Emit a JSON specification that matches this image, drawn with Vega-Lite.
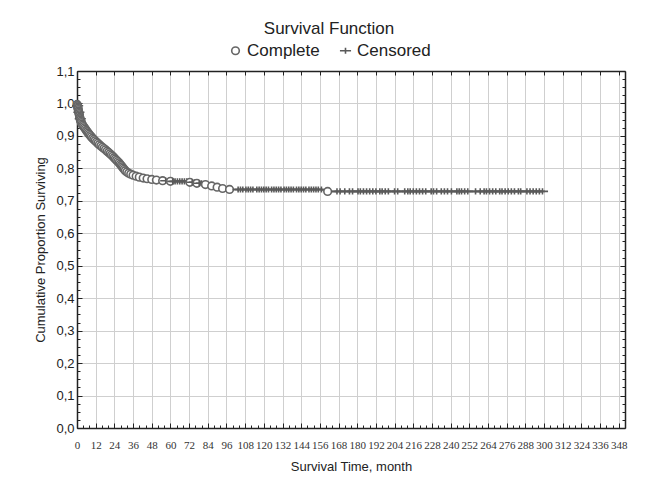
{
  "$schema": "https://vega.github.io/schema/vega-lite/v6.json",
  "width": 548,
  "height": 357,
  "autosize": {"type": "none"},
  "padding": {"left": 77, "top": 71, "right": 21, "bottom": 58},
  "background": "white",
  "title": {"text": "Survival Function", "anchor": "middle", "frame": "group", "dx": -22, "offset": 4, "font": "Liberation Sans", "fontSize": 17, "fontWeight": "normal", "color": "#222"},
  "data": {"values": [
    {"t": 0, "s": 1.0, "k": "Start"},
    {"t": 0.1, "s": 0.997, "k": "Complete"},
    {"t": 0.3, "s": 0.993, "k": "Complete"},
    {"t": 0.4, "s": 0.993, "k": "Censored"},
    {"t": 0.5, "s": 0.989, "k": "Complete"},
    {"t": 0.6, "s": 0.985, "k": "Complete"},
    {"t": 0.8, "s": 0.981, "k": "Complete"},
    {"t": 1.0, "s": 0.977, "k": "Complete"},
    {"t": 1.1, "s": 0.973, "k": "Complete"},
    {"t": 1.2, "s": 0.973, "k": "Censored"},
    {"t": 1.3, "s": 0.969, "k": "Complete"},
    {"t": 1.5, "s": 0.965, "k": "Complete"},
    {"t": 1.6, "s": 0.961, "k": "Complete"},
    {"t": 1.8, "s": 0.957, "k": "Complete"},
    {"t": 2.0, "s": 0.953, "k": "Complete"},
    {"t": 2.1, "s": 0.953, "k": "Censored"},
    {"t": 2.2, "s": 0.949, "k": "Complete"},
    {"t": 2.5, "s": 0.945, "k": "Complete"},
    {"t": 2.8, "s": 0.941, "k": "Complete"},
    {"t": 3.2, "s": 0.937, "k": "Complete"},
    {"t": 3.7, "s": 0.933, "k": "Complete"},
    {"t": 4.2, "s": 0.929, "k": "Complete"},
    {"t": 4.8, "s": 0.925, "k": "Complete"},
    {"t": 5.4, "s": 0.921, "k": "Complete"},
    {"t": 6.0, "s": 0.917, "k": "Complete"},
    {"t": 6.6, "s": 0.913, "k": "Complete"},
    {"t": 7.2, "s": 0.909, "k": "Complete"},
    {"t": 7.8, "s": 0.905, "k": "Complete"},
    {"t": 8.5, "s": 0.901, "k": "Complete"},
    {"t": 9.2, "s": 0.897, "k": "Complete"},
    {"t": 10.0, "s": 0.893, "k": "Complete"},
    {"t": 10.8, "s": 0.889, "k": "Complete"},
    {"t": 11.6, "s": 0.885, "k": "Complete"},
    {"t": 12.5, "s": 0.881, "k": "Complete"},
    {"t": 13.4, "s": 0.877, "k": "Complete"},
    {"t": 14.3, "s": 0.873, "k": "Complete"},
    {"t": 15.3, "s": 0.869, "k": "Complete"},
    {"t": 16.3, "s": 0.865, "k": "Complete"},
    {"t": 17.3, "s": 0.861, "k": "Complete"},
    {"t": 18.3, "s": 0.857, "k": "Complete"},
    {"t": 19.3, "s": 0.853, "k": "Complete"},
    {"t": 20.3, "s": 0.849, "k": "Complete"},
    {"t": 21.2, "s": 0.845, "k": "Complete"},
    {"t": 22.1, "s": 0.841, "k": "Complete"},
    {"t": 23.0, "s": 0.837, "k": "Complete"},
    {"t": 23.8, "s": 0.833, "k": "Complete"},
    {"t": 24.6, "s": 0.829, "k": "Complete"},
    {"t": 25.4, "s": 0.825, "k": "Complete"},
    {"t": 26.2, "s": 0.821, "k": "Complete"},
    {"t": 27.0, "s": 0.817, "k": "Complete"},
    {"t": 27.7, "s": 0.813, "k": "Complete"},
    {"t": 28.4, "s": 0.809, "k": "Complete"},
    {"t": 29.0, "s": 0.805, "k": "Complete"},
    {"t": 29.6, "s": 0.801, "k": "Complete"},
    {"t": 30.3, "s": 0.797, "k": "Complete"},
    {"t": 31.0, "s": 0.793, "k": "Complete"},
    {"t": 32.0, "s": 0.789, "k": "Complete"},
    {"t": 33.2, "s": 0.785, "k": "Complete"},
    {"t": 34.5, "s": 0.782, "k": "Complete"},
    {"t": 36.0, "s": 0.779, "k": "Complete"},
    {"t": 38.0, "s": 0.776, "k": "Complete"},
    {"t": 40.0, "s": 0.773, "k": "Complete"},
    {"t": 42.5, "s": 0.770, "k": "Complete"},
    {"t": 45.0, "s": 0.768, "k": "Complete"},
    {"t": 48.0, "s": 0.766, "k": "Complete"},
    {"t": 51.0, "s": 0.764, "k": "Complete"},
    {"t": 55.0, "s": 0.762, "k": "Complete"},
    {"t": 57.0, "s": 0.762, "k": "Censored"},
    {"t": 60.0, "s": 0.760, "k": "Complete"},
    {"t": 61.5, "s": 0.760, "k": "Censored"},
    {"t": 63.0, "s": 0.760, "k": "Censored"},
    {"t": 64.5, "s": 0.760, "k": "Censored"},
    {"t": 66.0, "s": 0.760, "k": "Censored"},
    {"t": 67.5, "s": 0.760, "k": "Censored"},
    {"t": 69.0, "s": 0.760, "k": "Censored"},
    {"t": 70.5, "s": 0.760, "k": "Censored"},
    {"t": 72.5, "s": 0.757, "k": "Complete"},
    {"t": 74.0, "s": 0.757, "k": "Censored"},
    {"t": 75.5, "s": 0.757, "k": "Censored"},
    {"t": 77.0, "s": 0.754, "k": "Complete"},
    {"t": 78.5, "s": 0.754, "k": "Censored"},
    {"t": 80.0, "s": 0.754, "k": "Censored"},
    {"t": 82.5, "s": 0.750, "k": "Complete"},
    {"t": 86.5, "s": 0.746, "k": "Complete"},
    {"t": 90.0, "s": 0.742, "k": "Complete"},
    {"t": 93.5, "s": 0.738, "k": "Complete"},
    {"t": 98.0, "s": 0.735, "k": "Complete"},
    {"t": 103.5, "s": 0.735, "k": "Censored"},
    {"t": 105.0, "s": 0.735, "k": "Censored"},
    {"t": 106.5, "s": 0.735, "k": "Censored"},
    {"t": 108.5, "s": 0.735, "k": "Censored"},
    {"t": 110.0, "s": 0.735, "k": "Censored"},
    {"t": 111.5, "s": 0.735, "k": "Censored"},
    {"t": 113.0, "s": 0.735, "k": "Censored"},
    {"t": 115.5, "s": 0.735, "k": "Censored"},
    {"t": 117.0, "s": 0.735, "k": "Censored"},
    {"t": 118.5, "s": 0.735, "k": "Censored"},
    {"t": 120.0, "s": 0.735, "k": "Censored"},
    {"t": 121.5, "s": 0.735, "k": "Censored"},
    {"t": 123.0, "s": 0.735, "k": "Censored"},
    {"t": 125.0, "s": 0.735, "k": "Censored"},
    {"t": 126.5, "s": 0.735, "k": "Censored"},
    {"t": 128.0, "s": 0.735, "k": "Censored"},
    {"t": 129.5, "s": 0.735, "k": "Censored"},
    {"t": 131.0, "s": 0.735, "k": "Censored"},
    {"t": 133.0, "s": 0.735, "k": "Censored"},
    {"t": 134.5, "s": 0.735, "k": "Censored"},
    {"t": 136.0, "s": 0.735, "k": "Censored"},
    {"t": 137.5, "s": 0.735, "k": "Censored"},
    {"t": 139.0, "s": 0.735, "k": "Censored"},
    {"t": 141.0, "s": 0.735, "k": "Censored"},
    {"t": 142.5, "s": 0.735, "k": "Censored"},
    {"t": 144.0, "s": 0.735, "k": "Censored"},
    {"t": 145.5, "s": 0.735, "k": "Censored"},
    {"t": 147.0, "s": 0.735, "k": "Censored"},
    {"t": 149.0, "s": 0.735, "k": "Censored"},
    {"t": 150.5, "s": 0.735, "k": "Censored"},
    {"t": 152.0, "s": 0.735, "k": "Censored"},
    {"t": 153.5, "s": 0.735, "k": "Censored"},
    {"t": 155.0, "s": 0.735, "k": "Censored"},
    {"t": 157.0, "s": 0.735, "k": "Censored"},
    {"t": 161.0, "s": 0.729, "k": "Complete"},
    {"t": 167.0, "s": 0.729, "k": "Censored"},
    {"t": 169.0, "s": 0.729, "k": "Censored"},
    {"t": 172.0, "s": 0.729, "k": "Censored"},
    {"t": 175.0, "s": 0.729, "k": "Censored"},
    {"t": 177.0, "s": 0.729, "k": "Censored"},
    {"t": 180.5, "s": 0.729, "k": "Censored"},
    {"t": 182.0, "s": 0.729, "k": "Censored"},
    {"t": 184.0, "s": 0.729, "k": "Censored"},
    {"t": 186.0, "s": 0.729, "k": "Censored"},
    {"t": 188.0, "s": 0.729, "k": "Censored"},
    {"t": 190.0, "s": 0.729, "k": "Censored"},
    {"t": 192.0, "s": 0.729, "k": "Censored"},
    {"t": 194.5, "s": 0.729, "k": "Censored"},
    {"t": 196.0, "s": 0.729, "k": "Censored"},
    {"t": 198.0, "s": 0.729, "k": "Censored"},
    {"t": 200.0, "s": 0.729, "k": "Censored"},
    {"t": 204.0, "s": 0.729, "k": "Censored"},
    {"t": 206.0, "s": 0.729, "k": "Censored"},
    {"t": 210.5, "s": 0.729, "k": "Censored"},
    {"t": 212.5, "s": 0.729, "k": "Censored"},
    {"t": 214.0, "s": 0.729, "k": "Censored"},
    {"t": 216.0, "s": 0.729, "k": "Censored"},
    {"t": 218.0, "s": 0.729, "k": "Censored"},
    {"t": 220.0, "s": 0.729, "k": "Censored"},
    {"t": 222.0, "s": 0.729, "k": "Censored"},
    {"t": 224.0, "s": 0.729, "k": "Censored"},
    {"t": 227.5, "s": 0.729, "k": "Censored"},
    {"t": 229.0, "s": 0.729, "k": "Censored"},
    {"t": 231.0, "s": 0.729, "k": "Censored"},
    {"t": 234.0, "s": 0.729, "k": "Censored"},
    {"t": 236.0, "s": 0.729, "k": "Censored"},
    {"t": 238.0, "s": 0.729, "k": "Censored"},
    {"t": 240.5, "s": 0.729, "k": "Censored"},
    {"t": 244.0, "s": 0.729, "k": "Censored"},
    {"t": 245.5, "s": 0.729, "k": "Censored"},
    {"t": 247.0, "s": 0.729, "k": "Censored"},
    {"t": 249.0, "s": 0.729, "k": "Censored"},
    {"t": 251.0, "s": 0.729, "k": "Censored"},
    {"t": 256.0, "s": 0.729, "k": "Censored"},
    {"t": 259.0, "s": 0.729, "k": "Censored"},
    {"t": 261.5, "s": 0.729, "k": "Censored"},
    {"t": 263.0, "s": 0.729, "k": "Censored"},
    {"t": 265.0, "s": 0.729, "k": "Censored"},
    {"t": 267.0, "s": 0.729, "k": "Censored"},
    {"t": 269.0, "s": 0.729, "k": "Censored"},
    {"t": 271.5, "s": 0.729, "k": "Censored"},
    {"t": 273.0, "s": 0.729, "k": "Censored"},
    {"t": 275.0, "s": 0.729, "k": "Censored"},
    {"t": 277.0, "s": 0.729, "k": "Censored"},
    {"t": 279.0, "s": 0.729, "k": "Censored"},
    {"t": 281.0, "s": 0.729, "k": "Censored"},
    {"t": 283.5, "s": 0.729, "k": "Censored"},
    {"t": 285.0, "s": 0.729, "k": "Censored"},
    {"t": 289.0, "s": 0.729, "k": "Censored"},
    {"t": 291.0, "s": 0.729, "k": "Censored"},
    {"t": 293.0, "s": 0.729, "k": "Censored"},
    {"t": 295.0, "s": 0.729, "k": "Censored"},
    {"t": 297.0, "s": 0.729, "k": "Censored"},
    {"t": 299.0, "s": 0.729, "k": "Censored"}
  ]},
  "layer": [
    {
      "mark": {"type": "line", "color": "#888888", "strokeWidth": 2},
      "encoding": {
        "x": {"field": "t", "type": "quantitative", "scale": {"domain": [0, 352], "nice": false},
          "axis": {"orient": "bottom", "title": "Survival Time, month", "titleFont": "Liberation Sans", "titleFontSize": 13, "titleFontWeight": "normal", "titleColor": "#222", "titlePadding": 8,
            "values": [0,4,8,12,16,20,24,28,32,36,40,44,48,52,56,60,64,68,72,76,80,84,88,92,96,100,104,108,112,116,120,124,128,132,136,140,144,148,152,156,160,164,168,172,176,180,184,188,192,196,200,204,208,212,216,220,224,228,232,236,240,244,248,252,256,260,264,268,272,276,280,284,288,292,296,300,304,308,312,316,320,324,328,332,336,340,344,348],
            "labelExpr": "datum.value % 12 == 0 ? datum.label : ''", "labelOverlap": false, "labelFont": "Liberation Serif", "labelFontSize": 11, "labelColor": "#333", "labelPadding": 16, "labelFlush": false,
            "grid": true, "gridColor": "#cfcfcf", "gridWidth": 1, "gridOpacity": {"condition": {"test": "datum.value % 12 == 0", "value": 1}, "value": 0},
            "ticks": true, "tickColor": "#222", "tickWidth": 1, "tickSize": {"condition": {"test": "datum.value % 12 == 0", "value": -5}, "value": -3},
            "domain": true, "domainColor": "#222", "domainWidth": 1.5}},
        "y": {"field": "s", "type": "quantitative", "scale": {"domain": [0, 1.1], "nice": false},
          "axis": {"orient": "left", "title": "Cumulative Proportion Surviving", "titleFont": "Liberation Sans", "titleFontSize": 13, "titleFontWeight": "normal", "titleColor": "#222", "titlePadding": 8,
            "values": [0,0.025,0.05,0.075,0.1,0.125,0.15,0.175,0.2,0.225,0.25,0.275,0.3,0.325,0.35,0.375,0.4,0.425,0.45,0.475,0.5,0.525,0.55,0.575,0.6,0.625,0.65,0.675,0.7,0.725,0.75,0.775,0.8,0.825,0.85,0.875,0.9,0.925,0.95,0.975,1,1.025,1.05,1.075,1.1],
            "labelExpr": "round(datum.value*40) % 4 == 0 ? replace(format(datum.value, '.1f'), '.', ',') : ''", "labelOverlap": false, "labelFont": "Liberation Sans", "labelFontSize": 13, "labelColor": "#222", "labelPadding": 8, "labelFlush": false,
            "grid": true, "gridColor": "#cfcfcf", "gridWidth": 1, "gridOpacity": {"condition": {"test": "round(datum.value*40) % 4 == 0", "value": 1}, "value": 0},
            "ticks": true, "tickColor": "#222", "tickWidth": 1, "tickSize": {"condition": {"test": "round(datum.value*40) % 4 == 0", "value": -5}, "value": -3},
            "domain": true, "domainColor": "#222", "domainWidth": 1.5}}
      }
    },
    {
      "transform": [{"filter": "datum.k != 'Start'"}],
      "mark": {"type": "point", "filled": false, "fill": "white", "fillOpacity": 1, "strokeWidth": 1.6, "opacity": 1},
      "encoding": {
        "x": {"field": "t", "type": "quantitative",
          "axis": {"orient": "top", "title": null, "labels": false, "grid": false, "values": [0,12,24,36,48,60,72,84,96,108,120,132,144,156,168,180,192,204,216,228,240,252,264,276,288,300,312,324,336,348], "tickSize": -4, "tickColor": "#222", "domainColor": "#222", "domainWidth": 1.5}},
        "y": {"field": "s", "type": "quantitative",
          "axis": {"orient": "right", "title": null, "labels": false, "grid": false,
            "values": [0,0.025,0.05,0.075,0.1,0.125,0.15,0.175,0.2,0.225,0.25,0.275,0.3,0.325,0.35,0.375,0.4,0.425,0.45,0.475,0.5,0.525,0.55,0.575,0.6,0.625,0.65,0.675,0.7,0.725,0.75,0.775,0.8,0.825,0.85,0.875,0.9,0.925,0.95,0.975,1,1.025,1.05,1.075,1.1],
            "tickSize": {"condition": {"test": "round(datum.value*40) % 4 == 0", "value": -5}, "value": -3}, "tickColor": "#222", "domainColor": "#222", "domainWidth": 1.5}},
        "shape": {"field": "k", "type": "nominal", "title": null, "scale": {"domain": ["Complete", "Censored"], "range": ["circle", "M-1.8,0H1.8M0,-1V1"]},
          "legend": {"title": null, "orient": "none", "legendX": 150, "legendY": -29, "direction": "horizontal", "labelFont": "Liberation Sans", "labelFontSize": 17, "labelColor": "#222", "symbolSize": 60, "symbolStrokeWidth": 1.6, "columnPadding": 16, "labelOffset": 3, "symbolFillColor": "white"}},
        "stroke": {"field": "k", "type": "nominal", "title": null, "scale": {"domain": ["Complete", "Censored"], "range": ["#666666", "#5a5a5a"]}},
        "size": {"field": "k", "type": "nominal", "title": null, "scale": {"domain": ["Complete", "Censored"], "range": [58, 38]}}
      }
    }
  ],
  "resolve": {"axis": {"x": "independent", "y": "independent"}},
  "config": {"view": {"stroke": null}, "font": "Liberation Sans"}
}
